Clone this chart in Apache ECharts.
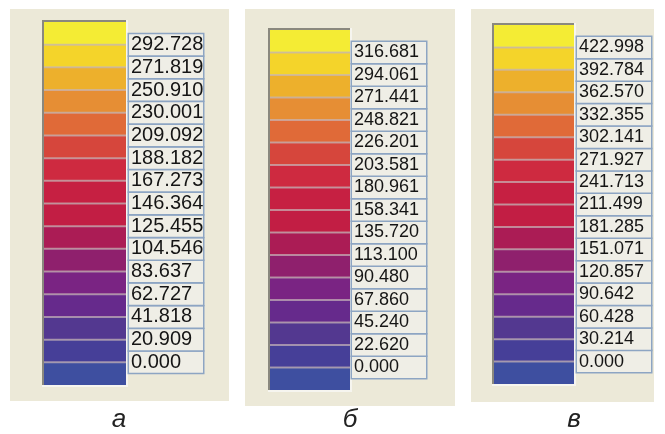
<!DOCTYPE html>
<html>
<head>
<meta charset="utf-8">
<script src="https://cdn.jsdelivr.net/npm/echarts@6/dist/echarts.min.js"></script>
<style>
html,body{margin:0;padding:0;background:#ffffff;}
#chart{width:665px;height:434px;}
</style>
</head>
<body>
<div id="chart"></div>
<script>
// ---- data ----
const captions = ['а', 'б', 'в'];
const ticksA = ['0.000','20.909','41.818','62.727','83.637','104.546','125.455','146.364','167.273','188.182','209.092','230.001','250.910','271.819','292.728'];
const ticksB = ['0.000','22.620','45.240','67.860','90.480','113.100','135.720','158.341','180.961','203.581','226.201','248.821','271.441','294.061','316.681'];
const ticksC = ['0.000','30.214','60.428','90.642','120.857','151.071','181.285','211.499','241.713','271.927','302.141','332.355','362.570','392.784','422.998'];
// band colours, bottom to top (16 bands)
const bandColors = ['#3E4FA0','#463F98','#533890','#662A8C','#7A2483','#8F206D','#AB1C55','#C21E44','#C62042','#CE2A40','#D6463C','#E06A38','#E68E34','#EDB02C','#F4D42A','#F4EC34'];

// ---- layout ----
const panels = [
  {ticks: ticksA, bg:[10,9,219,392], grid:{left:44,top:22,width:82,height:363}, margin:3, font:20, cap:[119,433]},
  {ticks: ticksB, bg:[245,9,210,397], grid:{left:270,top:30,width:80,height:360}, margin:2, font:18, cap:[350,433]},
  {ticks: ticksC, bg:[471,9,183,393], grid:{left:494,top:25,width:80,height:359}, margin:3, font:18, cap:[574,433]}
];

const grids = [], xAxes = [], yAxes = [], series = [], graphics = [];
panels.forEach((p, i) => {
  const vals = p.ticks.map(Number);
  const step = vals[vals.length - 1] / (vals.length - 1);
  const edges = [-step].concat(vals).concat([vals[vals.length - 1] + step]);
  const bands = [];
  for (let k = 0; k < edges.length - 1; k++) bands.push([0, edges[k], edges[k + 1], k]);

  graphics.push({type:'rect', z:-10, shape:{x:p.bg[0], y:p.bg[1], width:p.bg[2], height:p.bg[3]}, style:{fill:'#ECE9D8'}});
  const g = p.grid;
  // sunken frame
  graphics.push({type:'rect', z:-5, shape:{x:g.left-2, y:g.top-2, width:g.width+4, height:g.height+4}, style:{fill:'#F6F5EF'}});
  graphics.push({type:'rect', z:-4, shape:{x:g.left-2, y:g.top-2, width:g.width+2, height:g.height+2}, style:{fill:'#8A887E'}});
  graphics.push({type:'text', z:10, style:{text:captions[i], x:p.cap[0], y:p.cap[1], align:'center', verticalAlign:'bottom', font:'italic 26px "Liberation Sans", Arial, sans-serif', fill:'#222222'}});

  grids.push({left:g.left, top:g.top, width:g.width, height:g.height});
  xAxes.push({type:'category', gridIndex:i, data:['x'], show:false});
  yAxes.push({
    type:'value', gridIndex:i, position:'right',
    min:-step, max:vals[vals.length-1]+step, interval:step,
    axisLine:{show:false}, axisTick:{show:false}, splitLine:{show:false},
    axisLabel:{
      showMinLabel:false, showMaxLabel:false,
      margin:p.margin, align:'left',
      formatter:(v) => { const k = Math.round(v / step); return (k >= 0 && k < p.ticks.length) ? p.ticks[k] : ''; },
      fontFamily:'"Liberation Sans", Arial, sans-serif', fontSize:p.font, color:'#151515',
      backgroundColor:'#EFEEE6', borderColor:'#8DA5C3', borderWidth:1.5,
      width:71, overflow:'none', lineHeight:20, padding:[1,1,0,2]
    }
  });
  series.push({
    type:'custom', xAxisIndex:i, yAxisIndex:i, data:bands, clip:false,
    renderItem:(params, api) => {
      const cs = params.coordSys;
      const yTop = api.coord([0, api.value(2)])[1];
      const yBot = api.coord([0, api.value(1)])[1];
      const k = api.value(3);
      const children = [{type:'rect', shape:{x:cs.x, y:yTop, width:cs.width, height:yBot-yTop}, style:{fill:bandColors[k]}}];
      if (k > 0) children.push({type:'line', shape:{x1:cs.x, y1:yBot, x2:cs.x+cs.width, y2:yBot}, style:{stroke:'rgba(200,182,185,0.7)', lineWidth:2}});
      return {type:'group', children};
    }
  });
});

const chart = echarts.init(document.getElementById('chart'), null, {renderer:'canvas'});
chart.setOption({
  animation:false,
  backgroundColor:'#ffffff',
  grid:grids, xAxis:xAxes, yAxis:yAxes, series,
  graphic:graphics
});
</script>
</body>
</html>
